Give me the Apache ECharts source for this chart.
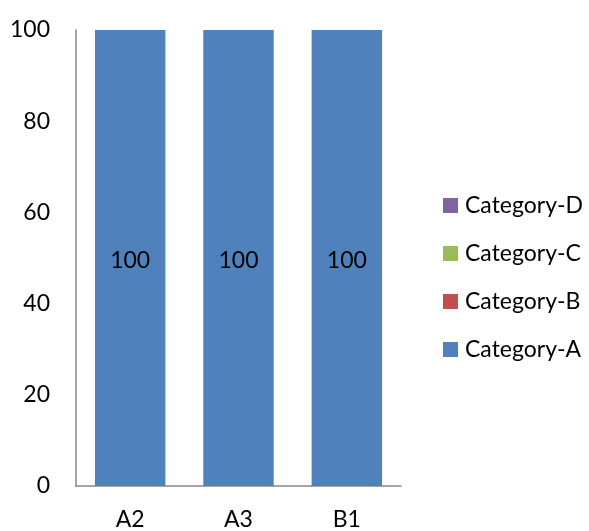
<!DOCTYPE html>
<html><head><meta charset="utf-8">
<script src="https://cdn.jsdelivr.net/npm/echarts@6/dist/echarts.min.js"></script>
<style>html,body{margin:0;padding:0;background:#fff}#c{width:589px;height:531px}</style>
</head><body><div id="c"></div>
<script>
const categories = ['A2', 'A3', 'B1'];
const seriesNames = ['Category-A', 'Category-B', 'Category-C', 'Category-D'];
const valuesA = [100, 100, 100];
const valuesB = [0, 0, 0];
const valuesC = [0, 0, 0];
const valuesD = [0, 0, 0];
const yTicks = [0, 20, 40, 60, 80, 100];
const colors = ['#4F81BD', '#C0504D', '#9BBB59', '#8064A2'];
const allValues = [valuesA, valuesB, valuesC, valuesD];
const font = 'Lato, "Liberation Sans", sans-serif';
const fs = 23;

const chart = echarts.init(document.getElementById('c'), null, {renderer: 'canvas'});
chart.setOption({
  animation: false,
  textStyle: {fontFamily: font},
  grid: {left: 76, right: 188, top: 30, bottom: 44, containLabel: false},
  legend: {
    orient: 'vertical', left: 443, top: 194, padding: 0,
    data: seriesNames.slice().reverse(),
    itemWidth: 15, itemHeight: 15, itemGap: 25, icon: 'rect',
    textStyle: {fontSize: fs, color: '#000', fontFamily: font, padding: [0,0,0,2]}
  },
  xAxis: {
    type: 'category', data: categories,
    axisLine: {lineStyle: {color: '#868686', width: 1.5}},
    axisTick: {show: false},
    axisLabel: {fontSize: fs, color: '#000', margin: 22, fontFamily: font}
  },
  yAxis: {
    type: 'value', min: yTicks[0], max: yTicks[yTicks.length-1], interval: 20,
    axisLine: {show: true, lineStyle: {color: '#868686', width: 1.5}},
    axisTick: {show: false},
    splitLine: {show: false},
    axisLabel: {fontSize: fs, color: '#000', margin: 26, fontFamily: font}
  },
  series: seriesNames.map((n, i) => ({
    name: n, type: 'bar', stack: 'total', data: allValues[i],
    barCategoryGap: '35%',
    itemStyle: {color: colors[i]},
    label: {show: i === 0, position: 'inside', offset: [0, 3], fontSize: fs, color: '#000', fontFamily: font}
  }))
});
</script></body></html>
